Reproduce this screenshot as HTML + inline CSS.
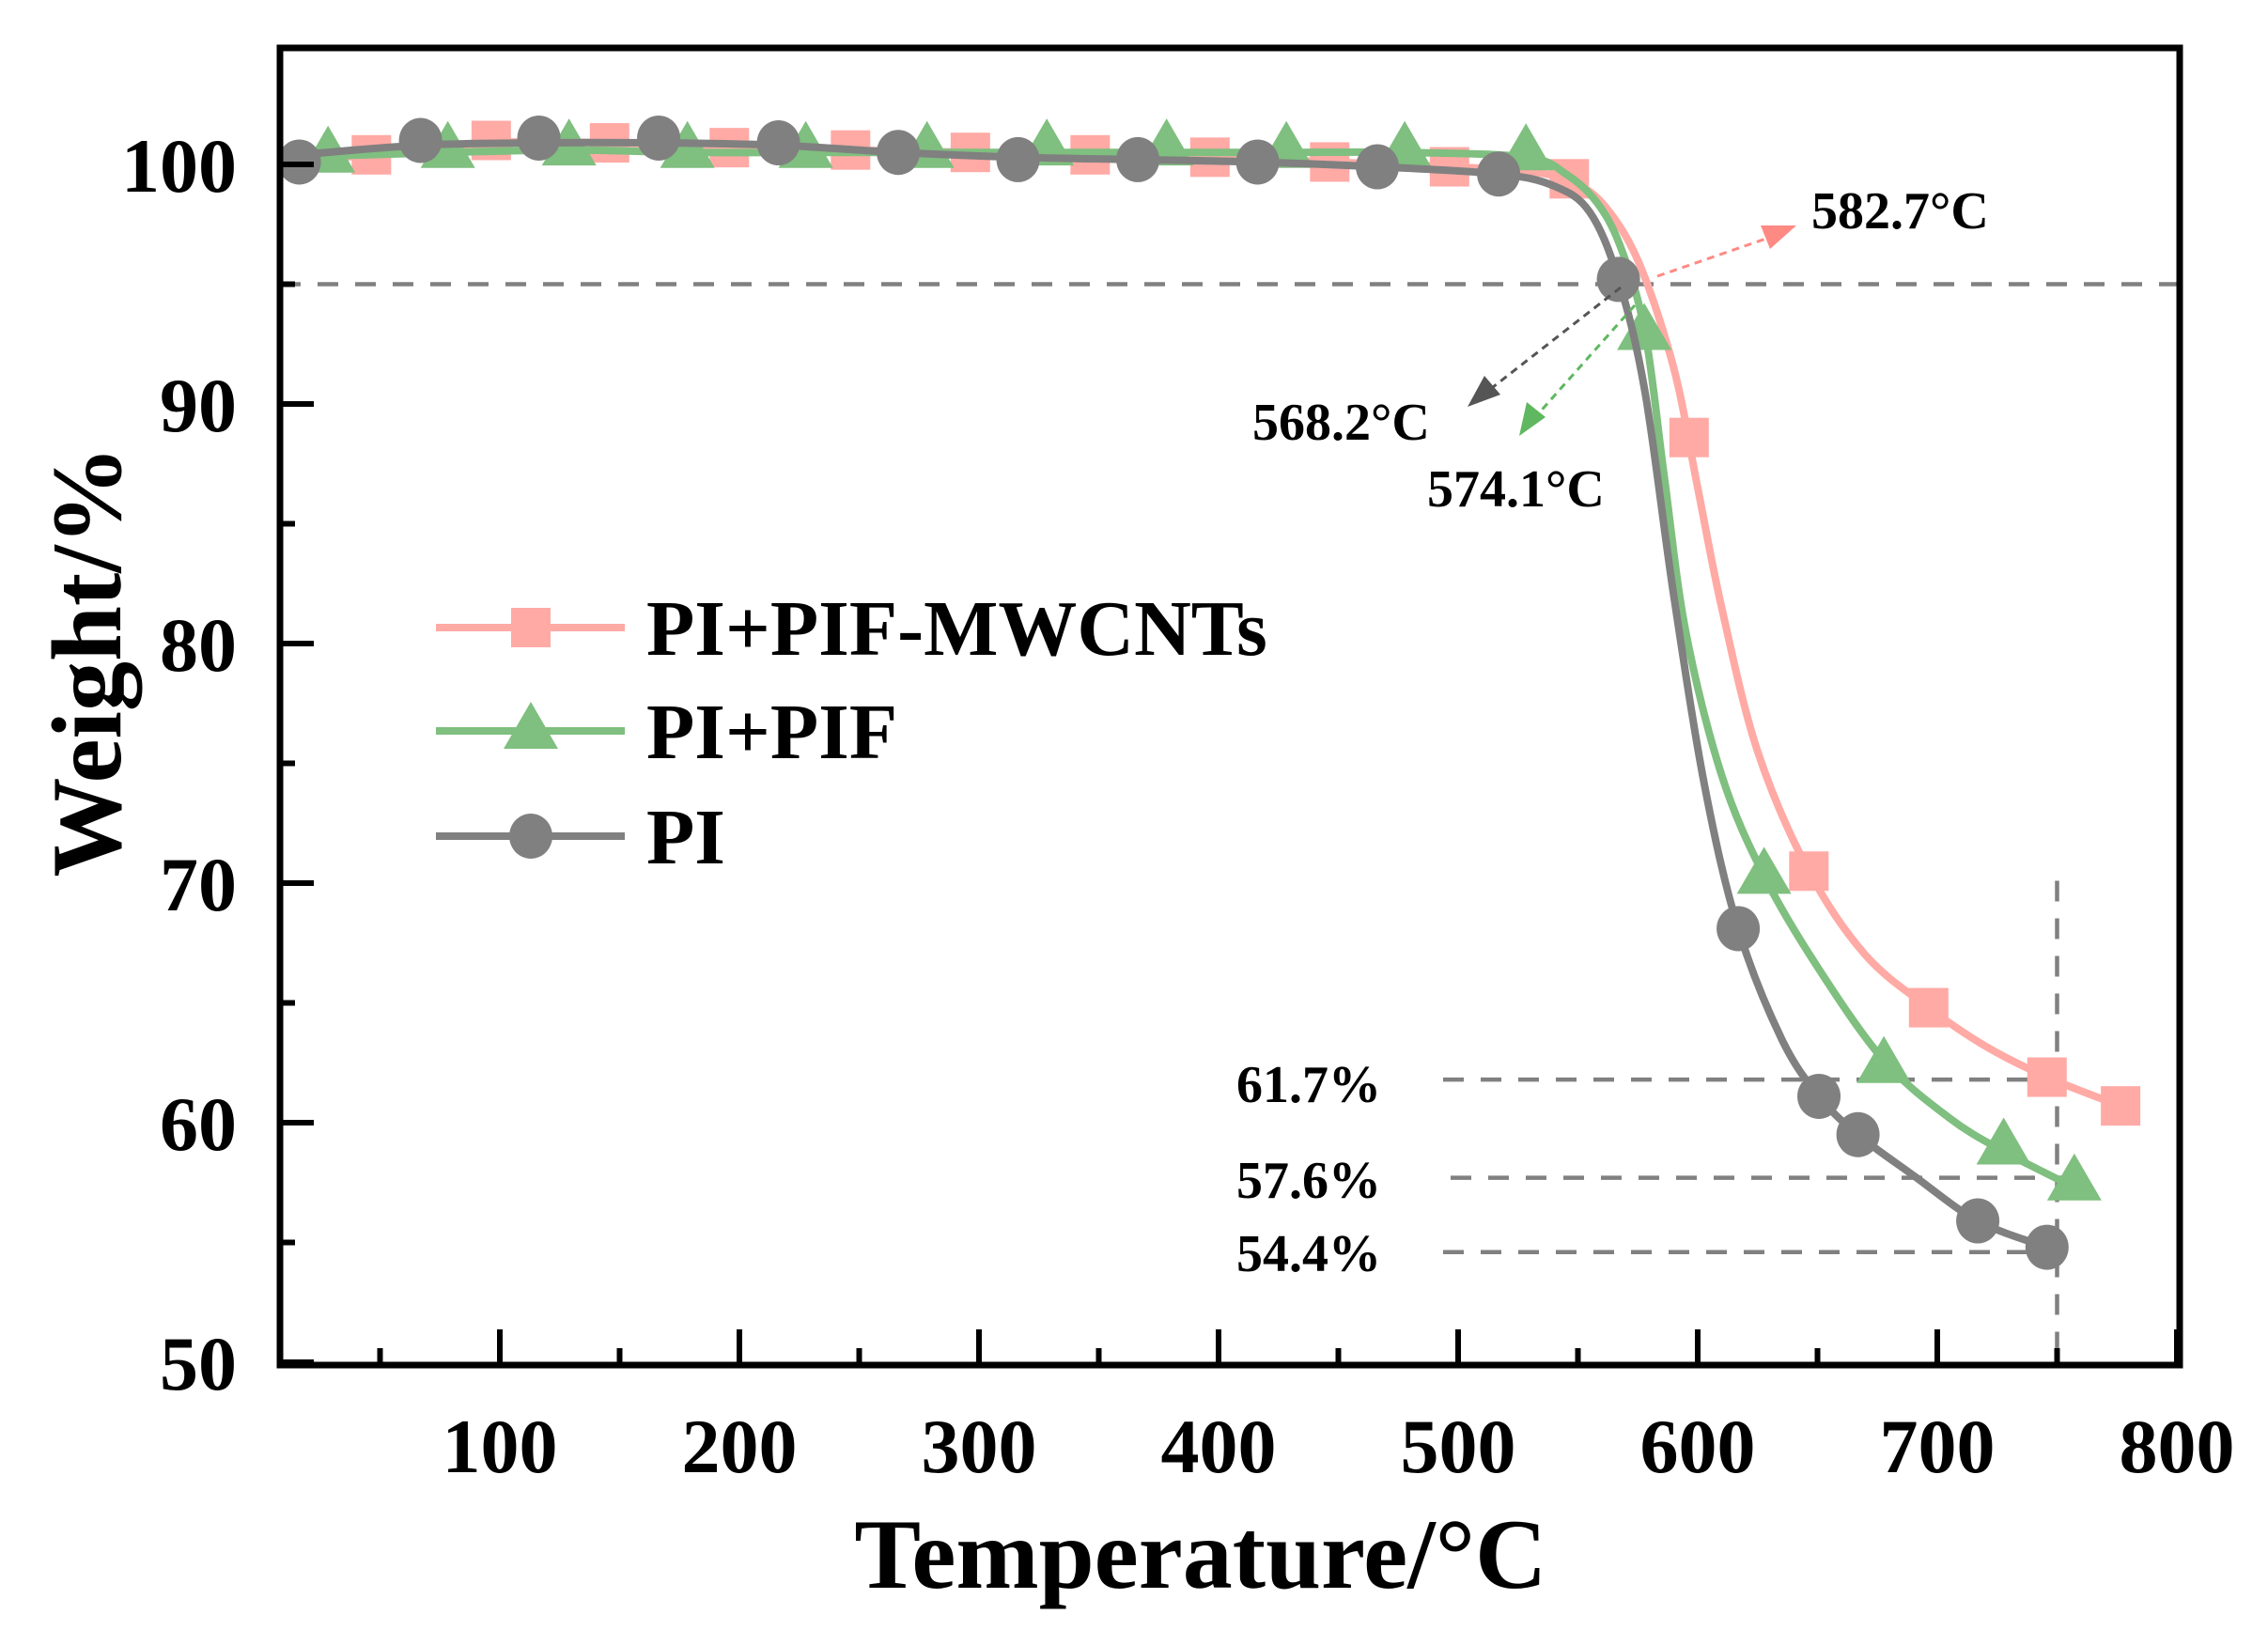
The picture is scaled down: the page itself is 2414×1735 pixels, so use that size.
<!DOCTYPE html>
<html><head><meta charset="utf-8"><style>
html,body{margin:0;padding:0;background:#fff}
svg text{font-family:"Liberation Serif",serif;font-weight:bold;fill:#000}
</style></head><body>
<svg id="s" width="2414" height="1730" viewBox="0 0 2414 1730" xmlns="http://www.w3.org/2000/svg">
<rect x="0" y="0" width="2414" height="1730" fill="#fff"/>
<g id="grid"></g>
<g id="series"></g>
<rect x="298" y="51" width="2022" height="1402" fill="none" stroke="#000" stroke-width="7"/>
<g id="ticks" stroke="#000" stroke-width="6"></g>
<g id="labels" font-size="82"></g>
<text x="1278" y="1690" font-size="106" text-anchor="middle">Temperature/°C</text>
<text transform="translate(128,704) rotate(-90)" font-size="106" text-anchor="middle">Weight/%</text>
<g font-size="56">
<text x="1928" y="243">582.7°C</text>
<text x="1333" y="468">568.2°C</text>
<text x="1519" y="539">574.1°C</text>
<text x="1316" y="1173">61.7%</text>
<text x="1316" y="1275">57.6%</text>
<text x="1316" y="1353">54.4%</text>
</g>
<g fill="none" stroke-width="3" stroke-dasharray="8,6">
<line x1="1764" y1="294" x2="1900" y2="247" stroke="#ff8a84"/>
<line x1="1725" y1="306" x2="1575" y2="423" stroke="#555"/>
<line x1="1740" y1="325" x2="1627" y2="452" stroke="#5fb85f"/>
</g>
<polygon points="1912,240 1874,240 1884,265" fill="#ff8a84"/>
<polygon points="1562,433 1580,400 1597,420" fill="#555"/>
<polygon points="1617,464 1625,428 1645,444" fill="#5fb85f"/>
<g id="legend" font-size="84"></g>
</svg>
<script>
var NS="http://www.w3.org/2000/svg";
function X(t){return 1807+(t-600)*2.55}
function Y(v){return 175+(100-v)*25.5}
function el(p,n,a){var e=document.createElementNS(NS,n);for(var k in a)e.setAttribute(k,a[k]);p.appendChild(e);return e}
var grid=document.getElementById('grid'),ser=document.getElementById('series'),tk=document.getElementById('ticks'),lb=document.getElementById('labels');
var ds={stroke:"#808080","stroke-width":4.5,"stroke-dasharray":"22,18",fill:"none"};
el(grid,'line',Object.assign({x1:298,y1:Y(95),x2:2320,y2:Y(95)},ds));
el(grid,'line',Object.assign({x1:X(750),y1:Y(70.1),x2:X(750),y2:1450},ds));
el(grid,'line',Object.assign({x1:1536,y1:Y(61.8),x2:X(752),y2:Y(61.8)},ds));
el(grid,'line',Object.assign({x1:1544,y1:Y(57.7),x2:X(760),y2:Y(57.7)},ds));
el(grid,'line',Object.assign({x1:1536,y1:Y(54.6),x2:X(745),y2:Y(54.6)},ds));
for(var t=50;t<=800;t+=50){var x=X(t);if(x<300)continue;var L=(t%100==0)?38:18;el(tk,'line',{x1:x,y1:1453,x2:x,y2:1453-L});
 if(t%100==0){var tx=el(lb,'text',{x:x,y:1567,"text-anchor":"middle"});tx.textContent=t;}}
for(var v=50;v<=105;v+=5){var y=Y(v);if(y<55)continue;var L=(v%10==0)?36:16;el(tk,'line',{x1:298,y1:y,x2:298+L,y2:y});
 if(v%10==0){var tx=el(lb,'text',{x:252,y:y+29,"text-anchor":"end"});tx.textContent=v;}}
function cr(pts){var d="M"+pts[0][0]+","+pts[0][1];for(var i=0;i<pts.length-1;i++){var p0=pts[i-1]||pts[i],p1=pts[i],p2=pts[i+1],p3=pts[i+2]||p2;
 d+=" C"+(p1[0]+(p2[0]-p0[0])/6)+","+(p1[1]+(p2[1]-p0[1])/6)+" "+(p2[0]-(p3[0]-p1[0])/6)+","+(p2[1]-(p3[1]-p1[1])/6)+" "+p2[0]+","+p2[1];}return d}
var S=[
{c:"#ffaaa5",m:"sq",curve:[[12,100.1],[46.4,100.4],[96.4,100.9],[145.8,100.9],[195.8,100.7],[246.4,100.6],[296.4,100.5],[346.4,100.4],[396.4,100.3],[446.4,100.1],[496.4,99.9],[530,99.7],[546.4,99.3],[560,98.4],[575,96],[590,91.5],[600,86.5],[610,81.5],[625,75.5],[646.4,70.5],[670,67],[696.4,64.8],[720,63.2],[745.8,61.9],[776.5,60.7]],
 mk:[[46.4,100.4],[96.4,101.0],[145.8,100.9],[195.8,100.7],[246.4,100.6],[296.4,100.5],[346.4,100.4],[396.4,100.3],[446.4,100.1],[496.4,99.9],[546.4,99.4],[596.4,88.6],[646.4,70.5],[696.4,64.8],[745.8,61.9],[776.5,60.7]]},
{c:"#7fbf7f",m:"tri",curve:[[12,100.3],[78.3,100.5],[128.9,100.6],[178.3,100.5],[227.7,100.5],[278.3,100.5],[328.3,100.5],[378.3,100.5],[428.3,100.5],[477.7,100.5],[528.3,100.3],[545,99.6],[558,98.4],[568,96.5],[578,93],[586,87],[595,80.5],[610,74.5],[627.7,70.3],[650,66.5],[677.7,62.6],[705,60.2],[727.7,58.8],[757.2,57.3]],
 mk:[[28.3,100.4],[78.3,100.6],[128.9,100.7],[178.3,100.6],[227.7,100.6],[278.3,100.6],[328.3,100.7],[378.3,100.7],[428.3,100.6],[477.7,100.6],[528.3,100.5],[577.7,93.0],[627.7,70.3],[677.7,62.4],[727.7,59.0],[757.2,57.5]]},
{c:"#808080",m:"ci",curve:[[16.3,100.4],[66.9,100.8],[116.3,100.9],[166.3,100.9],[216.3,100.8],[266.3,100.5],[316.3,100.3],[366.3,100.2],[416.3,100.1],[466.3,99.9],[516.9,99.6],[540,99.1],[555,98],[566.9,95.2],[578,90.5],[590,82],[603,74],[616.9,68.1],[635,63.5],[650.6,61.1],[666.9,59.5],[690,57.8],[716.9,55.9],[745.8,54.8]],
 mk:[[16.3,100.1],[66.9,101.0],[116.3,101.1],[166.3,101.1],[216.3,100.9],[266.3,100.5],[316.3,100.2],[366.3,100.2],[416.3,100.1],[466.3,99.9],[516.9,99.6],[566.9,95.2],[616.9,68.1],[650.6,61.1],[666.9,59.5],[716.9,55.9],[745.8,54.8]]}
];
function marker(g,m,x,y,c){
 if(m=="sq")el(g,'rect',{x:x-21,y:y-21,width:42,height:42,fill:c});
 else if(m=="tri")el(g,'polygon',{points:(x)+","+(y-31)+" "+(x-29)+","+(y+19)+" "+(x+29)+","+(y+19),fill:c});
 else el(g,'ellipse',{cx:x,cy:y,rx:23,ry:24,fill:c});
}
S.forEach(function(s){
 el(ser,'path',{d:cr(s.curve.map(function(p){return[X(p[0]),Y(p[1])]})),fill:"none",stroke:s.c,"stroke-width":8,"stroke-linejoin":"round"});
 s.mk.forEach(function(p){marker(ser,s.m,X(p[0]),Y(p[1]),s.c)});
});
var lg=document.getElementById('legend');
[["PI+PIF-MWCNTs",668,0],["PI+PIF",778,1],["PI",890,2]].forEach(function(a){
 var s=S[a[2]];el(lg,'line',{x1:464,y1:a[1],x2:665,y2:a[1],stroke:s.c,"stroke-width":8});
 marker(lg,s.m,565,a[1],s.c);
 var t=el(lg,'text',{x:688,y:a[1]+29});t.textContent=a[0];
});
</script>
</body></html>
